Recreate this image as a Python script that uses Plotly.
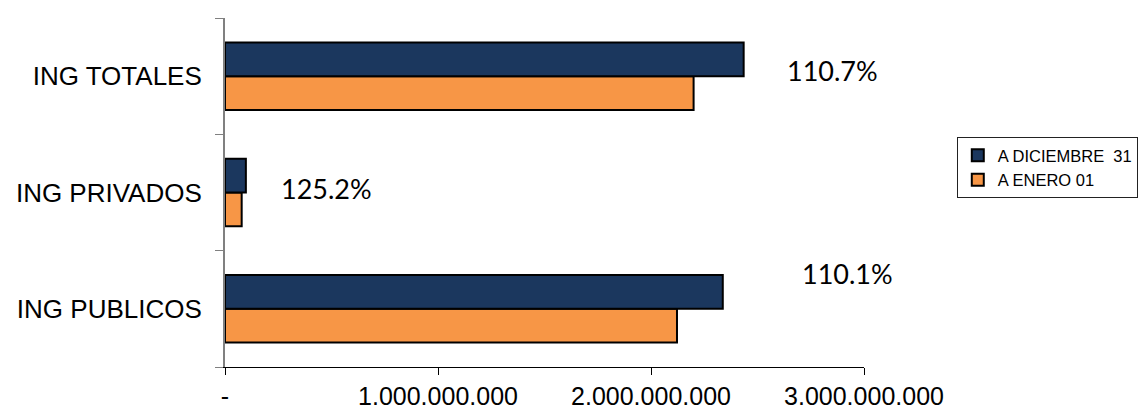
import plotly.graph_objects as go

categories = ["ING PUBLICOS", "ING PRIVADOS", "ING TOTALES"]
a_diciembre = [2337000000, 98000000, 2435000000]
a_enero = [2122000000, 78300000, 2200000000]
pct_labels = ["110.1%", "125.2%", "110.7%"]
x_tickvals = [0, 1000000000, 2000000000, 3000000000]
x_ticktext = ["-", "1.000.000.000", "2.000.000.000", "3.000.000.000"]

fig = go.Figure()
fig.add_trace(go.Bar(
    y=categories, x=a_enero, orientation="h", name="A ENERO 01",
    marker=dict(color="#F79646", line=dict(color="black", width=2)),
    legendrank=2,
))
fig.add_trace(go.Bar(
    y=categories, x=a_diciembre, orientation="h", name="A DICIEMBRE  31",
    marker=dict(color="#1B375E", line=dict(color="black", width=2)),
    legendrank=1,
))

# annotation placement (x in data units, y shift in px)
ann_pos = [(2.70e9, 35), (0.2535e9, 4), (2.63e9, 6)]
for cat, lab, (ax, ys) in zip(categories, pct_labels, ann_pos):
    fig.add_annotation(x=ax, y=cat, text=lab, showarrow=False, xanchor="left",
                       yshift=ys, font=dict(family="Lato, Open Sans, sans-serif", size=27, color="black"))

fig.update_layout(
    template="none",
    width=1139, height=401,
    margin=dict(l=217, r=283, t=10, b=42, pad=0),
    paper_bgcolor="white", plot_bgcolor="white",
    barmode="group", bargap=0.42, bargroupgap=0,
    font=dict(family="Liberation Sans, Arial, sans-serif", color="black"),
    showlegend=True,
    legend=dict(xref="container", yref="container", x=0.833, y=0.678,
                xanchor="left", yanchor="top",
                bordercolor="#222222", borderwidth=1, bgcolor="white",
                font=dict(size=16.5, family="Liberation Sans, Arial, sans-serif"),
                itemwidth=30, tracegroupgap=0),
)
fig.update_xaxes(range=[0, 3000000000], tickvals=x_tickvals, ticktext=x_ticktext,
                 automargin=False,
                 showgrid=False, zeroline=False, showline=True, linecolor="black", linewidth=1,
                 ticks="outside", ticklen=7, tickcolor="black",
                 tickfont=dict(size=25), ticklabelstandoff=0)
fig.update_yaxes(automargin=False,
                 showgrid=False, zeroline=False, showline=True, linecolor="#808080", linewidth=2,
                 ticks="outside", ticklen=8, tickcolor="#808080", tickson="boundaries",
                 tickfont=dict(size=26), ticklabelstandoff=16)

fig.write_html("out.html")
